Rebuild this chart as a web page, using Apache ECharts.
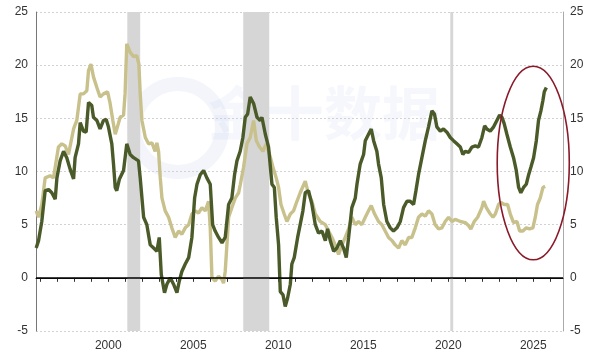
<!DOCTYPE html>
<html><head><meta charset="utf-8">
<script src="https://cdn.jsdelivr.net/npm/echarts@6/dist/echarts.min.js"></script>
<style>html,body{margin:0;padding:0;background:#fff}#c{width:600px;height:360px}</style>
</head><body><div id="c"></div>
<script>
const darkYears = [1995.76,1995.90,1996.09,1996.29,1996.49,1996.68,1996.88,1996.98,1997.17,1997.37,1997.56,1997.76,1997.96,1998.05,1998.25,1998.35,1998.54,1998.70,1998.84,1999.03,1999.13,1999.33,1999.52,1999.72,1999.88,2000.01,2000.21,2000.31,2000.41,2000.50,2000.66,2000.90,2001.09,2001.29,2001.49,2001.59,2001.78,2001.88,2002.08,2002.27,2002.47,2002.67,2002.86,2003.00,2003.12,2003.31,2003.45,2003.65,2003.84,2004.04,2004.18,2004.33,2004.53,2004.73,2004.92,2005.08,2005.22,2005.41,2005.61,2005.80,2006.00,2006.14,2006.29,2006.49,2006.69,2006.88,2007.08,2007.27,2007.43,2007.57,2007.76,2007.92,2008.06,2008.20,2008.35,2008.55,2008.75,2008.94,2009.04,2009.24,2009.43,2009.63,2009.77,2009.88,2010.02,2010.12,2010.28,2010.41,2010.55,2010.71,2010.80,2010.94,2011.14,2011.29,2011.45,2011.59,2011.78,2011.98,2012.18,2012.37,2012.57,2012.77,2012.90,2013.06,2013.26,2013.45,2013.65,2013.84,2014.00,2014.14,2014.33,2014.53,2014.63,2014.82,2015.02,2015.12,2015.31,2015.47,2015.61,2015.80,2015.90,2016.06,2016.20,2016.39,2016.59,2016.78,2016.98,2017.18,2017.37,2017.57,2017.76,2017.96,2018.10,2018.25,2018.45,2018.65,2018.84,2019.04,2019.19,2019.33,2019.53,2019.72,2019.92,2020.12,2020.31,2020.51,2020.71,2020.86,2021.00,2021.20,2021.39,2021.59,2021.78,2021.98,2022.14,2022.27,2022.47,2022.67,2022.86,2023.02,2023.16,2023.29,2023.45,2023.65,2023.84,2024.00,2024.14,2024.27,2024.43,2024.59,2024.73,2024.86,2025.02,2025.18,2025.31,2025.45,2025.57,2025.65,2025.77];
const darkValues = [2.8,3.5,5.3,8.2,8.3,8.0,7.4,9.4,11.0,11.9,11.3,10.2,9.3,11.3,12.6,14.6,13.8,13.7,16.5,16.2,15.1,14.8,14.0,14.8,14.9,14.2,12.6,10.7,8.5,8.2,9.3,10.1,12.6,11.6,11.3,11.3,11.0,9.4,5.7,5.0,3.1,2.8,2.5,3.8,0.3,-1.4,-0.6,0,-0.6,-1.4,-0.3,0.6,1.3,1.9,3.8,7.5,8.8,9.7,10.1,9.4,8.8,5.0,4.4,3.8,3.3,3.8,6.9,7.5,9.7,11.0,11.9,13.2,15.1,15.4,17.0,16.4,15.1,14.8,15.1,13.5,12.3,8.8,8.5,5.7,3.1,-1.3,-1.6,-2.7,-1.9,-0.6,1.3,1.9,3.8,5.0,6.3,8.0,8.2,6.9,5.0,4.2,4.4,3.5,4.6,3.5,2.5,2.8,3.5,2.8,1.9,3.8,6.6,7.5,8.8,10.7,11.6,12.9,13.5,14.0,12.9,11.9,10.7,9.4,6.9,5.3,4.7,4.4,4.7,5.3,6.6,7.2,7.2,6.9,8.2,9.7,11.3,12.9,14.2,15.7,15.4,14.2,13.8,14.0,13.7,13.2,12.9,12.6,12.3,11.6,11.9,11.8,12.3,12.4,12.3,13.2,14.3,14.0,13.8,14.2,14.8,15.3,15.1,14.5,13.5,12.3,11.3,10.1,8.5,8.0,8.5,8.8,9.7,10.4,11.3,12.9,14.8,15.7,16.7,17.5,17.9];
const lightYears = [1995.76,1995.90,1996.09,1996.29,1996.58,1996.78,1996.88,1997.07,1997.27,1997.47,1997.66,1997.86,1997.96,1998.15,1998.35,1998.54,1998.74,1998.84,1998.98,1999.13,1999.33,1999.52,1999.72,1999.96,2000.11,2000.27,2000.41,2000.54,2000.70,2000.90,2000.99,2001.09,2001.29,2001.49,2001.68,2001.80,2001.88,2001.98,2002.18,2002.37,2002.57,2002.76,2002.86,2002.96,2003.06,2003.16,2003.35,2003.55,2003.74,2003.94,2004.14,2004.33,2004.53,2004.73,2004.92,2005.12,2005.31,2005.51,2005.71,2005.90,2006.00,2006.10,2006.29,2006.49,2006.69,2006.78,2006.88,2006.98,2007.08,2007.27,2007.47,2007.67,2007.77,2007.96,2008.16,2008.35,2008.55,2008.71,2008.90,2009.10,2009.29,2009.49,2009.69,2009.88,2010.02,2010.16,2010.35,2010.51,2010.71,2010.90,2011.10,2011.29,2011.59,2011.78,2011.98,2012.18,2012.47,2012.77,2012.96,2013.16,2013.35,2013.55,2013.75,2013.94,2014.14,2014.33,2014.53,2014.72,2014.92,2015.12,2015.31,2015.47,2015.67,2015.90,2016.10,2016.29,2016.49,2016.69,2016.88,2017.08,2017.27,2017.47,2017.67,2017.86,2018.06,2018.25,2018.45,2018.65,2018.84,2019.04,2019.23,2019.43,2019.63,2019.82,2020.02,2020.22,2020.41,2020.71,2021.00,2021.20,2021.33,2021.53,2021.73,2021.98,2022.08,2022.24,2022.43,2022.63,2022.77,2022.96,2023.10,2023.29,2023.49,2023.65,2023.84,2024.04,2024.20,2024.39,2024.59,2024.78,2024.98,2025.12,2025.25,2025.41,2025.57,2025.70];
const lightValues = [6.3,5.7,6.9,9.4,9.6,9.4,10.4,12.3,12.6,12.4,11.6,13.2,14.0,14.8,17.3,17.3,17.6,19.5,20.1,18.9,17.9,17.0,17.3,17.5,16.4,14.8,13.5,14.2,15.1,15.3,17.3,22.0,21.2,20.8,20.9,20.1,17.3,14.8,13.2,12.6,12.7,11.9,12.7,11.9,9.4,7.5,6.3,5.7,4.7,3.8,4.4,4.1,4.7,5.0,6.0,6.3,6.1,6.6,6.3,7.2,4.7,0,-0.3,0.15,-0.15,-0.5,0.6,3.1,5.7,6.6,7.5,8.0,8.8,10.4,12.6,13.2,14.8,12.9,12.3,11.9,12.6,11.6,10.4,9.4,8.5,6.9,6.0,5.3,6.0,6.3,7.2,8.0,9.1,7.9,7.2,6.0,5.3,5.0,4.4,3.8,3.1,2.2,3.1,3.8,4.6,5.7,5.0,5.3,5.0,5.7,6.3,6.8,6.0,5.3,5.0,4.4,3.8,3.5,3.1,2.8,3.5,3.1,3.8,3.8,4.7,5.7,6.0,5.8,6.3,6.0,5.0,4.6,4.7,5.3,5.7,5.3,5.5,5.3,5.2,4.9,4.6,5.3,5.7,6.6,7.2,6.6,6.1,5.7,6.0,6.9,7.1,6.9,6.9,6.0,5.2,5.3,4.4,4.4,4.7,4.6,4.7,5.7,6.9,7.5,8.5,8.6];
const recessions = [[2001.12, 2001.88], [2007.94, 2009.47], [2020.12, 2020.29]];
const xLabelYears = [2000, 2005, 2010, 2015, 2020, 2025];
const xTickYears = [1996,1997,1998,1999,2000,2001,2002,2003,2004,2005,2006,2007,2008,2009,2010,2011,2012,2013,2014,2015,2016,2017,2018,2019,2020,2021,2022,2023,2024,2025,2026];

const chart = echarts.init(document.getElementById('c'));
const font = 'Liberation Sans, Arial, sans-serif';
const yCommon = {
  type: 'value', min: -5, max: 25, interval: 5,
  axisTick: { show: false },
  axisLabel: { fontSize: 12, color: '#333', fontFamily: font }
};
chart.setOption({
  animation: false,
  grid: { left: 36, right: 37, top: 12, bottom: 29 },
  xAxis: {
    type: 'value', min: 1995.75, max: 2026.75,
    axisLine: { show: true, lineStyle: { color: '#222', width: 1.2 } },
    axisTick: { show: true, customValues: xTickYears, length: 4, inside: false, lineStyle: { color: '#333', width: 1 } },
    axisLabel: { customValues: xLabelYears, formatter: v => String(Math.round(v)), fontSize: 12, color: '#333', fontFamily: font, margin: 9 },
    splitLine: { show: false }
  },
  yAxis: [
    Object.assign({}, yCommon, {
      position: 'left',
      axisLine: { show: true, lineStyle: { color: '#777' } },
      axisLabel: Object.assign({}, yCommon.axisLabel, { margin: 8 }),
      splitLine: { show: true, lineStyle: { color: '#d2d2d2', type: [2, 2], width: 1 } }
    }),
    Object.assign({}, yCommon, {
      position: 'right',
      axisLine: { show: true, lineStyle: { color: '#aaa' } },
      axisLabel: Object.assign({}, yCommon.axisLabel, { margin: 7 }),
      splitLine: { show: false }
    })
  ],
  series: [
    {
      type: 'line', data: [], z: 1, silent: true,
      markArea: {
        silent: true,
        itemStyle: { color: '#d6d6d6' },
        data: recessions.map(r => [{ xAxis: r[0], yAxis: 25 }, { xAxis: r[1], yAxis: -5 }])
      },
      markLine: {
        silent: true, symbol: 'none', label: { show: false },
        lineStyle: { color: '#000', type: 'solid', width: 1.6 },
        data: [{ yAxis: 0 }]
      }
    },
    {
      name: 'light', type: 'line', z: 3, showSymbol: false, symbol: 'none',
      lineStyle: { color: '#c8c18c', width: 3.4 },
      data: lightYears.map((x, i) => [x, lightValues[i]])
    },
    {
      name: 'dark', type: 'line', z: 4, showSymbol: false, symbol: 'none',
      lineStyle: { color: '#4a5a28', width: 3.4 },
      data: darkYears.map((x, i) => [x, darkValues[i]])
    }
  ]
});

const c = chart.convertToPixel({ gridIndex: 0 }, [2025.0, 10.8]);
const t = chart.convertToPixel({ gridIndex: 0 }, [2027.12, 19.9]);
chart.setOption({
  graphic: [
    {
      type: 'circle', z: 0, silent: true,
      shape: { cx: 178, cy: 128, r: 44 },
      style: { fill: 'none', stroke: 'rgba(200,210,235,0.22)', lineWidth: 14 }
    },
    {
      type: 'text', z: 0, left: 208, top: 84, silent: true,
      style: { text: '金十数据', font: 'bold 58px "Noto Sans CJK SC"', fill: 'rgba(195,205,235,0.16)' }
    },
    {
      type: 'ellipse', z: 10, silent: true,
      shape: { cx: c[0], cy: c[1], rx: t[0] - c[0], ry: c[1] - t[1] },
      style: { fill: 'none', stroke: '#8a1a2a', lineWidth: 1.6 }
    }
  ]
});
</script></body></html>
